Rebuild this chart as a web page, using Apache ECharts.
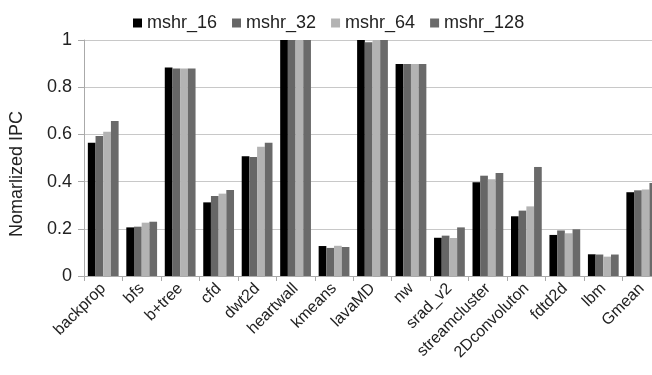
<!DOCTYPE html>
<html>
<head>
<meta charset="utf-8">
<script src="https://cdn.jsdelivr.net/npm/echarts@6/dist/echarts.min.js"></script>
<style>
html,body{margin:0;padding:0;background:#fff;overflow:hidden;width:652px;height:375px;}
#c{width:661px;height:375px;}
</style>
</head>
<body>
<div id="c"></div>
<script>
const categories = ["backprop","bfs","b+tree","cfd","dwt2d","heartwall","kmeans","lavaMD","nw","srad_v2","streamcluster","2Dconvoluton","fdtd2d","lbm","Gmean"];
const seriesNames = ["mshr_16","mshr_32","mshr_64","mshr_128"];
const mshr16  = [0.565,0.206,0.883,0.312,0.507,1.0,0.127,1.0,0.898,0.162,0.397,0.253,0.174,0.092,0.355];
const mshr32  = [0.593,0.209,0.879,0.339,0.504,1.0,0.119,0.990,0.898,0.171,0.425,0.277,0.193,0.091,0.363];
const mshr64  = [0.611,0.226,0.879,0.349,0.548,1.0,0.128,1.0,0.898,0.161,0.410,0.295,0.181,0.082,0.366];
const mshr128 = [0.657,0.230,0.879,0.364,0.565,1.0,0.123,1.0,0.898,0.206,0.436,0.462,0.198,0.091,0.394];
const yTicks = [0,0.2,0.4,0.6,0.8,1];
const colors = ["#000000","#666666","#b3b3b3","#6a6a6a"];
const allData = [mshr16,mshr32,mshr64,mshr128];

const chart = echarts.init(document.getElementById('c'));
const font = "Liberation Sans";
chart.setOption({
  animation:false,
  textStyle:{fontFamily:font},
  legend:{
    data:seriesNames,
    left:128, top:9,
    icon:'rect', itemWidth:9, itemHeight:9, itemGap:15,
    textStyle:{fontFamily:font, fontSize:18, color:'#222'}
  },
  grid:{left:81, right:0, top:40, bottom:99, containLabel:false},
  xAxis:{
    type:'category',
    data:categories,
    axisLine:{lineStyle:{color:'#aaaaaa', width:1}},
    axisTick:{show:true, length:5, lineStyle:{color:'#aaaaaa'}},
    axisLabel:{rotate:45, fontFamily:font, fontSize:16, color:'#222', margin:10, interval:0}
  },
  yAxis:{
    type:'value',
    min:0, max:1, interval:0.2,
    name:'Nomarlized IPC',
    nameLocation:'middle',
    nameGap:58,
    nameTextStyle:{fontFamily:font, fontSize:18, color:'#222', padding:[0,32,0,0]},
    axisLine:{show:true, lineStyle:{color:'#aaaaaa'}},
    axisTick:{show:true, inside:false, length:6, lineStyle:{color:'#aaaaaa'}},
    splitLine:{lineStyle:{color:'#c8c8c8', width:1}},
    axisLabel:{fontFamily:font, fontSize:18, color:'#222', margin:12,
      formatter:function(v){ const r=Math.round(v*10)/10; return yTicks.indexOf(r)>=0 ? String(r) : ''; }}
  },
  series: seriesNames.map((n,i)=>({
    name:n, type:'bar', data:allData[i],
    barGap:'0%', barCategoryGap:'20%',
    itemStyle:{color:colors[i]}
  }))
});
</script>
</body>
</html>
